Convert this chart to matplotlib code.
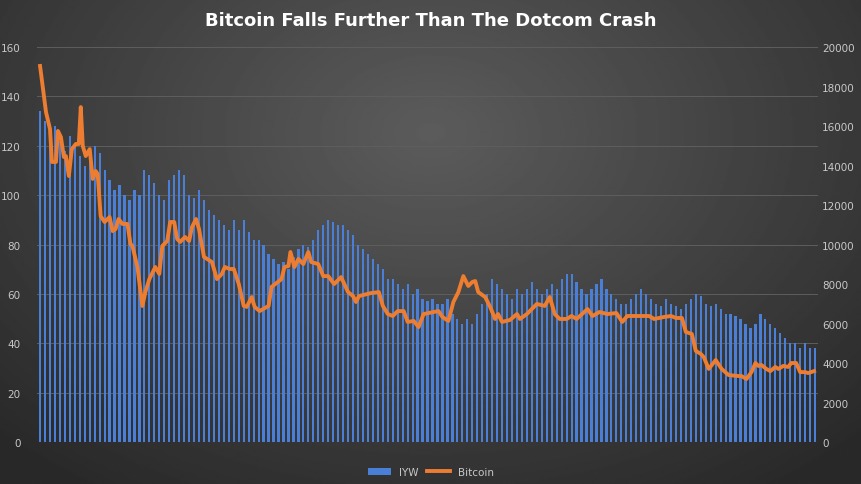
import numpy as np
import matplotlib
matplotlib.use("Agg")
import matplotlib.pyplot as plt

iyw = [134,130,129,128,122,118,124,120,116,112,115,120,117,110,106,102,104,100,98,102,100,110,108,105,100,98,106,108,110,108,100,99,102,98,94,92,90,88,86,90,86,90,85,82,82,80,76,74,72,73,70,75,78,80,79,82,86,88,90,89,88,88,86,84,80,78,76,74,72,70,66,66,64,62,64,60,62,58,57,58,56,56,58,52,50,48,50,48,52,56,60,66,64,62,60,58,62,60,62,65,62,60,62,64,62,66,68,68,65,62,60,62,64,66,62,60,58,56,56,58,60,62,60,58,56,55,58,56,55,54,56,58,60,59,56,55,56,54,52,52,51,50,48,46,48,52,50,48,46,44,42,40,40,38,40,38,38]

btc_t = [0,1.2,2,2.4,3.2,3.6,4.2,4.8,5.2,5.8,6.4,7.2,7.8,8.2,8.6,9.2,10,10.6,11.2,11.6,12.2,13,14,14.6,15.2,15.8,16.6,17.6,18.2,18.6,19.6,20.6,21.2,22,23.2,24,24.6,25.6,26.2,27,27.6,28.2,29.2,30,30.6,31.4,32,33,34.6,35.6,36.6,37.2,38.2,39,40,41,41.6,42.6,43.2,44.2,46,46.6,48.6,49.2,50,50.4,51.2,52,53,54,54.6,56,57,58,59.2,60.6,62,63,63.6,64.2,66.6,68.2,69,70,71,72,73.2,74,75.2,76.2,77.2,79.2,80.2,81,82.2,83.2,84.2,85.2,86.2,87,87.6,88.2,89.6,90.6,91.6,92.2,93,94.6,96,96.6,98,100,101.6,102.6,103.6,104.6,106,107,108,110.2,111.2,112.6,114.2,116,117.2,118.2,122.6,123.6,125.6,127,128,129.2,130,131.2,132,133,133.6,134.6,136,137.2,138.6,140.6,141.2,142.2,143.2,144,144.6,145.2,146.2,147,148,148.6,149.6,150.6,151.2,152.2,153,154,154.6,155.8]
btc = [19040,16700,15850,14180,14180,15750,15440,14430,14480,13470,14830,15090,15090,16960,14990,14480,14830,13320,13720,13570,11440,11140,11390,10680,10780,11290,11040,11040,10030,9920,8860,6890,7590,8250,8860,8510,9920,10180,11140,11140,10280,10130,10380,10180,10890,11290,10780,9370,9110,8250,8510,8860,8760,8760,8000,6890,6840,7340,6840,6630,6890,7850,8250,8860,8910,9620,8860,9270,9010,9620,9110,9010,8400,8400,8000,8350,7590,7390,7090,7390,7540,7590,6890,6480,6380,6630,6630,6080,6130,5820,6480,6580,6630,6330,6130,7090,7590,8400,7900,8100,8150,7590,7340,6840,6230,6480,6080,6180,6480,6230,6480,6990,6890,7340,6480,6230,6230,6380,6230,6730,6380,6580,6480,6530,6080,6380,6380,6230,6330,6380,6280,6280,5570,5470,4610,4460,4300,3700,4150,3700,3390,3340,3340,3190,3540,4000,3850,3900,3700,3590,3800,3700,3850,3800,4000,4000,3540,3540,3490,3590]
n = min(len(btc_t), len(btc))
btc_t, btc = btc_t[:n], btc[:n]

fig = plt.figure(figsize=(8.62, 4.85), dpi=100)
bg = fig.add_axes([0, 0, 1, 1])
yy, xx = np.mgrid[1:-1:300j, -1:1:500j]
r = np.sqrt(xx**2 + ((yy - 0.45) * 0.8)**2)
bg.imshow(0.36 - 0.14 * np.clip(r, 0, 1.4), cmap="gray", vmin=0, vmax=1, aspect="auto", extent=[0, 1, 0, 1])
bg.axis("off")

ax = fig.add_axes([0.043, 0.0866, 0.906, 0.8144])
ax.patch.set_alpha(0)
x = np.arange(len(iyw))
ax.bar(x, iyw, width=0.45, color="#4a7fd8", label="IYW", zorder=2)
ax.set_ylim(0, 160)
ax.set_yticks(range(0, 161, 20))
ax.set_xlim(-0.6, len(iyw) - 0.4)
ax.set_xticks([])
ax.grid(axis="y", color="#5e5e5e", lw=0.7, zorder=0)
for s in ax.spines.values():
    s.set_visible(False)
ax.tick_params(axis="y", colors="#c8c8c8", labelsize=7.5, length=0, pad=12)

ax2 = ax.twinx()
ax2.plot(btc_t, btc, color="#ED7D31", lw=2.8, label="Bitcoin", zorder=3)
ax2.set_ylim(0, 20000)
ax2.set_yticks(range(0, 20001, 2000))
for s in ax2.spines.values():
    s.set_visible(False)
ax2.tick_params(axis="y", colors="#c8c8c8", labelsize=7.5, length=0, pad=3)

fig.suptitle("Bitcoin Falls Further Than The Dotcom Crash", color="white", fontsize=13, fontweight="bold", y=0.975)
h1, l1 = ax.get_legend_handles_labels()
h2, l2 = ax2.get_legend_handles_labels()
fig.legend(h1 + h2, l1 + l2, loc="lower center", ncol=2, frameon=False, fontsize=7.5,
           labelcolor="#c8c8c8", bbox_to_anchor=(0.5, -0.005), handlelength=2.2, columnspacing=0.8)
fig.savefig("out.png", dpi=100)
